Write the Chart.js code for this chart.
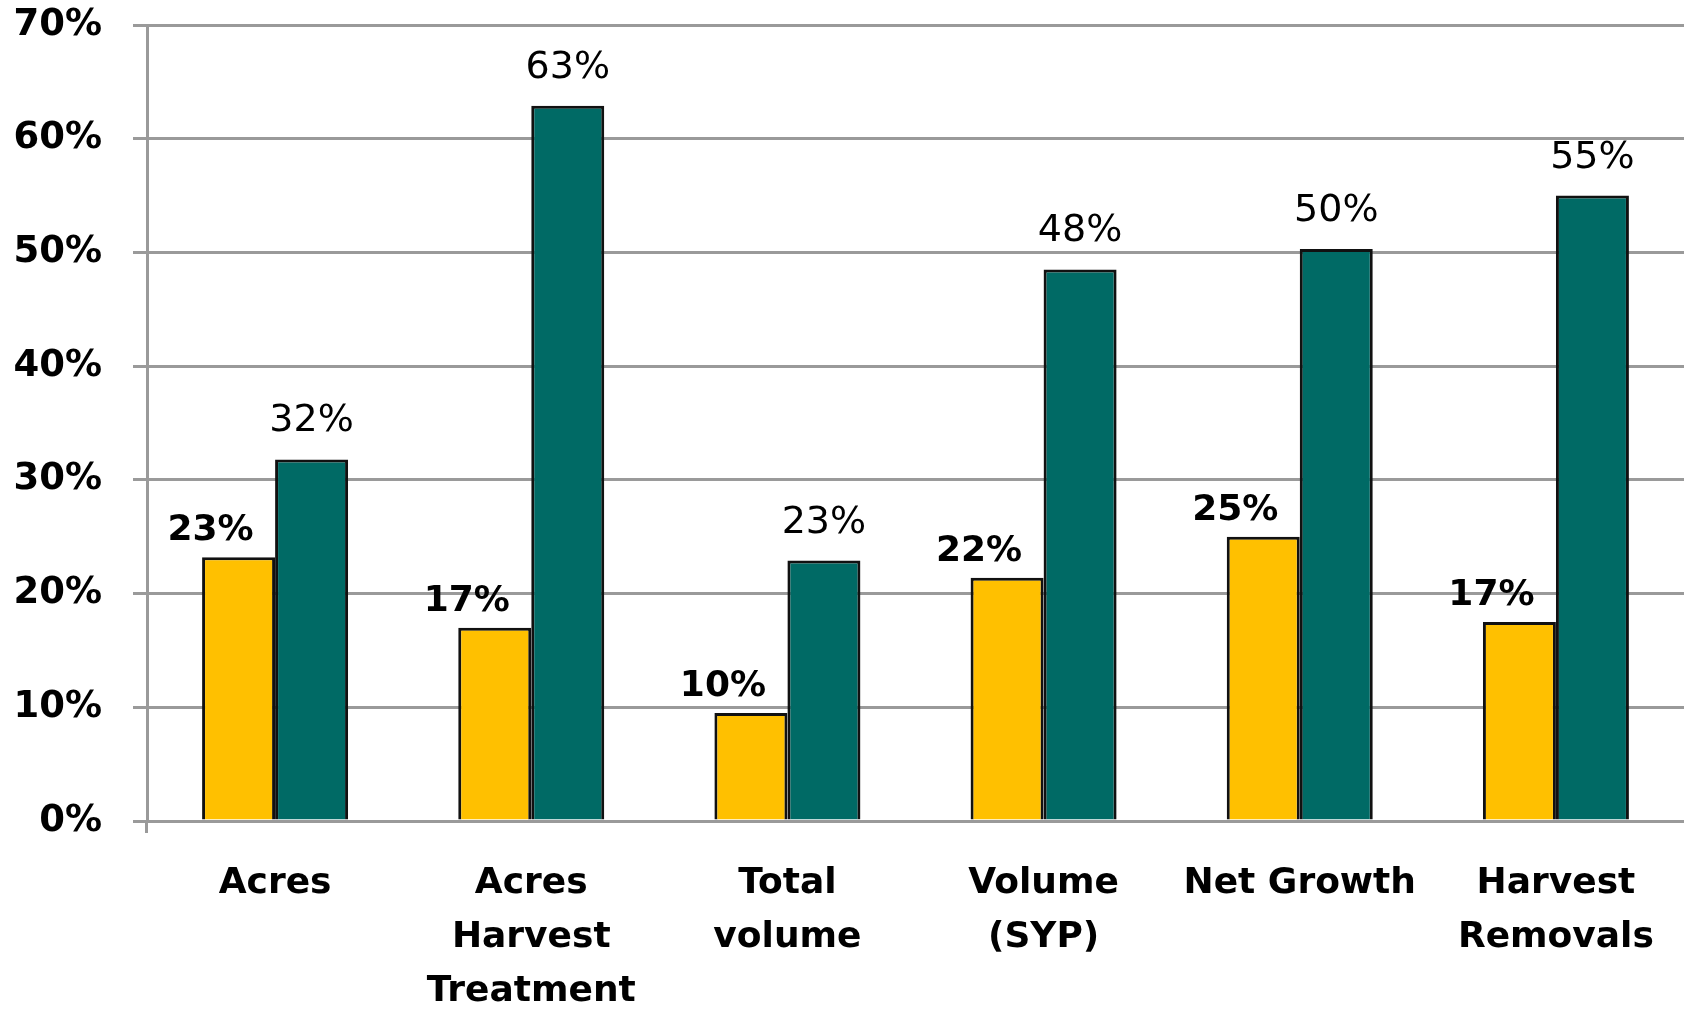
<!DOCTYPE html>
<html>
<head>
<meta charset="utf-8">
<script src="https://cdn.jsdelivr.net/npm/chart.js@4"></script>
<style>
    body { margin: 0; background: #fff; }
    #wrap { width: 1684px; height: 1012px; }
</style>
</head>
<body>
<div id="wrap"><canvas id="barChart"></canvas></div>
<script>
// categorias e valores
const categories = [
    ['Acres'],
    ['Acres', 'Harvest', 'Treatment'],
    ['Total', 'volume'],
    ['Volume', '(SYP)'],
    ['Net Growth'],
    ['Harvest', 'Removals']
];
const yellowValues = [23.2, 17.0, 9.5, 21.4, 25.0, 17.5];
const tealValues = [31.8, 62.9, 22.9, 48.5, 50.3, 55.0];
const yellowLabels = ['23%', '17%', '10%', '22%', '25%', '17%'];
const tealLabels = ['32%', '63%', '23%', '48%', '50%', '55%'];
const yTicks = [0, 10, 20, 30, 40, 50, 60, 70];

const FONT = "'DejaVu Sans', Verdana, sans-serif";
const GRID = '#9a9a9a';

// rótulos de valor acima das barras
const valueLabels = {
    id: 'valueLabels',
    afterDatasetsDraw(chart) {
        const ctx = chart.ctx;
        chart.data.datasets.forEach((ds, di) => {
            const meta = chart.getDatasetMeta(di);
            meta.data.forEach((bar, i) => {
                ctx.save();
                ctx.font = `${ds.labelWeight} ${ds.labelSize}px ${FONT}`;
                ctx.fillStyle = '#000';
                ctx.textAlign = 'center';
                ctx.textBaseline = 'alphabetic';
                ctx.fillText(ds.valueLabels[i], bar.x + ds.labelShift, bar.y - ds.labelGap);
                ctx.restore();
            });
        });
    }
};

const ctx = document.getElementById('barChart');
ctx.chart = new Chart(ctx, {
    type: 'bar',
    data: {
        labels: categories,
        datasets: [
            {
                data: yellowValues,
                backgroundColor: '#FFC000',
                borderColor: '#111',
                borderWidth: 3,
                borderSkipped: 'bottom',
                valueLabels: yellowLabels,
                labelWeight: 'bold',
                labelSize: 36,
                labelShift: -28,
                labelGap: 17
            },
            {
                data: tealValues,
                backgroundColor: '#006A65',
                borderColor: '#111',
                borderWidth: 3,
                borderSkipped: 'bottom',
                valueLabels: tealLabels,
                labelWeight: 'normal',
                labelSize: 38,
                labelShift: 0,
                labelGap: 28
            }
        ]
    },
    options: {
        responsive: true,
        maintainAspectRatio: false,
        animation: false,
        layout: { padding: { left: 15, top: 25, right: 0, bottom: 0 } },
        datasets: {
            bar: { categoryPercentage: 0.57, barPercentage: 1.0 }
        },
        scales: {
            x: {
                border: { display: false },
                grid: {
                    drawOnChartArea: false,
                    drawTicks: true,
                    tickLength: 12,
                    lineWidth: 3,
                    color: c => c.index === 0 ? GRID : 'transparent'
                },
                ticks: {
                    color: '#000',
                    padding: 24,
                    maxRotation: 0,
                    autoSkip: false,
                    font: { family: FONT, size: 36, weight: 'bold', lineHeight: 1.5 }
                },
                afterFit: axis => {
                    axis.height = 191;
                    axis.paddingLeft = 0;
                    axis.paddingRight = 0;
                }
            },
            y: {
                min: 0,
                max: 70,
                afterBuildTicks: axis => { axis.ticks = yTicks.map(v => ({ value: v })); },
                border: { display: true, color: GRID, width: 3 },
                grid: {
                    color: GRID,
                    lineWidth: 3,
                    drawTicks: true,
                    tickLength: 14
                },
                ticks: {
                    color: '#000',
                    padding: 31,
                    callback: v => v + '%',
                    font: { family: FONT, size: 37, weight: 'bold' }
                },
                afterFit: axis => {
                    axis.width = 132;
                    axis.paddingTop = 0;
                    axis.paddingBottom = 0;
                }
            }
        },
        plugins: {
            legend: { display: false },
            tooltip: { enabled: false }
        }
    },
    plugins: [valueLabels]
});
</script>
</body>
</html>
